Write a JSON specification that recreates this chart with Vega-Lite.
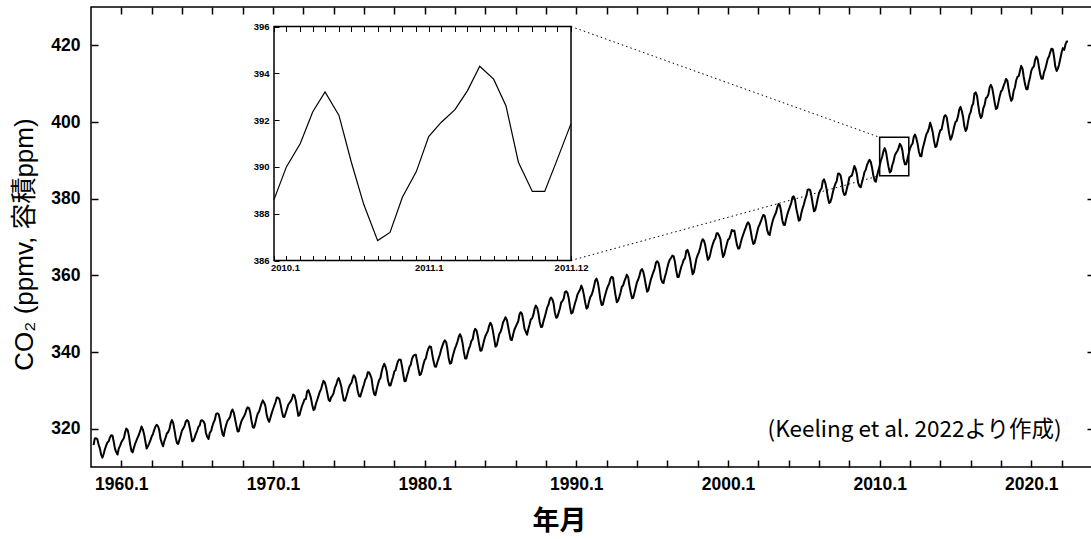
{
"$schema":"https://vega.github.io/schema/vega-lite/v6.json",
"width":1001,"height":460,
"autosize":{"type":"none"},
"padding":{"left":91,"top":7,"right":0,"bottom":72},
"background":"white",
"config":{"view":{"stroke":"black","strokeWidth":1.5},"axis":{"grid":false,"domain":false,"tickColor":"black","labelColor":"black","titleColor":"black","labelOverlap":false,"labelFlush":false}},
"datasets":{"co2":[
{"t":1958.17,"c":315.70},{"t":1958.25,"c":317.45},{"t":1958.33,"c":317.51},{"t":1958.42,"c":317.24},{"t":1958.5,"c":315.86},{"t":1958.58,"c":314.93},{"t":1958.67,"c":313.20},{"t":1958.75,"c":312.43},{"t":1958.83,"c":313.33},{"t":1958.92,"c":314.67},
{"t":1959,"c":315.62},{"t":1959.08,"c":316.38},{"t":1959.17,"c":316.71},{"t":1959.25,"c":317.72},{"t":1959.33,"c":318.29},{"t":1959.42,"c":318.15},{"t":1959.5,"c":316.54},{"t":1959.58,"c":314.80},{"t":1959.67,"c":313.84},{"t":1959.75,"c":313.26},{"t":1959.83,"c":314.80},{"t":1959.92,"c":315.58},
{"t":1960,"c":316.43},{"t":1960.08,"c":316.97},{"t":1960.17,"c":317.58},{"t":1960.25,"c":319.02},{"t":1960.33,"c":320.03},{"t":1960.42,"c":319.59},{"t":1960.5,"c":318.18},{"t":1960.58,"c":315.91},{"t":1960.67,"c":314.16},{"t":1960.75,"c":313.83},{"t":1960.83,"c":315.00},{"t":1960.92,"c":316.19},
{"t":1961,"c":316.93},{"t":1961.08,"c":317.70},{"t":1961.17,"c":318.54},{"t":1961.25,"c":319.48},{"t":1961.33,"c":320.58},{"t":1961.42,"c":319.77},{"t":1961.5,"c":318.57},{"t":1961.58,"c":316.79},{"t":1961.67,"c":314.80},{"t":1961.75,"c":315.38},{"t":1961.83,"c":316.10},{"t":1961.92,"c":317.01},
{"t":1962,"c":317.94},{"t":1962.08,"c":318.55},{"t":1962.17,"c":319.68},{"t":1962.25,"c":320.57},{"t":1962.33,"c":321.02},{"t":1962.42,"c":320.62},{"t":1962.5,"c":319.61},{"t":1962.58,"c":317.40},{"t":1962.67,"c":316.25},{"t":1962.75,"c":315.42},{"t":1962.83,"c":316.69},{"t":1962.92,"c":317.70},
{"t":1963,"c":318.74},{"t":1963.08,"c":319.07},{"t":1963.17,"c":319.86},{"t":1963.25,"c":321.38},{"t":1963.33,"c":322.25},{"t":1963.42,"c":321.48},{"t":1963.5,"c":319.74},{"t":1963.58,"c":317.77},{"t":1963.67,"c":316.21},{"t":1963.75,"c":315.99},{"t":1963.83,"c":317.07},{"t":1963.92,"c":318.35},
{"t":1964,"c":319.57},{"t":1964.08,"c":320.01},{"t":1964.17,"c":320.74},{"t":1964.25,"c":321.84},{"t":1964.33,"c":322.26},{"t":1964.42,"c":321.89},{"t":1964.5,"c":320.44},{"t":1964.58,"c":318.69},{"t":1964.67,"c":316.70},{"t":1964.75,"c":316.87},{"t":1964.83,"c":317.68},{"t":1964.92,"c":318.71},
{"t":1965,"c":319.44},{"t":1965.08,"c":320.44},{"t":1965.17,"c":320.89},{"t":1965.25,"c":322.14},{"t":1965.33,"c":322.17},{"t":1965.42,"c":321.87},{"t":1965.5,"c":321.21},{"t":1965.58,"c":318.87},{"t":1965.67,"c":317.81},{"t":1965.75,"c":317.30},{"t":1965.83,"c":318.87},{"t":1965.92,"c":319.42},
{"t":1966,"c":320.62},{"t":1966.08,"c":321.59},{"t":1966.17,"c":322.39},{"t":1966.25,"c":323.87},{"t":1966.33,"c":324.01},{"t":1966.42,"c":323.75},{"t":1966.5,"c":322.39},{"t":1966.58,"c":320.37},{"t":1966.67,"c":318.64},{"t":1966.75,"c":318.10},{"t":1966.83,"c":319.79},{"t":1966.92,"c":321.08},
{"t":1967,"c":322.07},{"t":1967.08,"c":322.50},{"t":1967.17,"c":323.04},{"t":1967.25,"c":324.42},{"t":1967.33,"c":325.00},{"t":1967.42,"c":324.09},{"t":1967.5,"c":322.54},{"t":1967.58,"c":320.92},{"t":1967.67,"c":319.25},{"t":1967.75,"c":319.39},{"t":1967.83,"c":320.73},{"t":1967.92,"c":321.96},
{"t":1968,"c":322.57},{"t":1968.08,"c":323.15},{"t":1968.17,"c":323.89},{"t":1968.25,"c":325.02},{"t":1968.33,"c":325.57},{"t":1968.42,"c":325.36},{"t":1968.5,"c":324.14},{"t":1968.58,"c":322.11},{"t":1968.67,"c":320.33},{"t":1968.75,"c":320.25},{"t":1968.83,"c":321.32},{"t":1968.92,"c":322.89},
{"t":1969,"c":324.00},{"t":1969.08,"c":324.42},{"t":1969.17,"c":325.63},{"t":1969.25,"c":326.66},{"t":1969.33,"c":327.38},{"t":1969.42,"c":326.71},{"t":1969.5,"c":325.88},{"t":1969.58,"c":323.66},{"t":1969.67,"c":322.38},{"t":1969.75,"c":321.78},{"t":1969.83,"c":322.86},{"t":1969.92,"c":324.12},
{"t":1970,"c":325.06},{"t":1970.08,"c":325.98},{"t":1970.17,"c":326.93},{"t":1970.25,"c":328.13},{"t":1970.33,"c":328.08},{"t":1970.42,"c":327.67},{"t":1970.5,"c":326.34},{"t":1970.58,"c":324.69},{"t":1970.67,"c":323.10},{"t":1970.75,"c":323.06},{"t":1970.83,"c":324.01},{"t":1970.92,"c":325.13},
{"t":1971,"c":326.17},{"t":1971.08,"c":326.68},{"t":1971.17,"c":327.17},{"t":1971.25,"c":327.79},{"t":1971.33,"c":328.93},{"t":1971.42,"c":328.57},{"t":1971.5,"c":327.36},{"t":1971.58,"c":325.43},{"t":1971.67,"c":323.36},{"t":1971.75,"c":323.56},{"t":1971.83,"c":324.80},{"t":1971.92,"c":326.01},
{"t":1972,"c":326.77},{"t":1972.08,"c":327.63},{"t":1972.17,"c":327.75},{"t":1972.25,"c":329.72},{"t":1972.33,"c":330.07},{"t":1972.42,"c":329.09},{"t":1972.5,"c":328.04},{"t":1972.58,"c":326.32},{"t":1972.67,"c":324.84},{"t":1972.75,"c":325.20},{"t":1972.83,"c":326.50},{"t":1972.92,"c":327.55},
{"t":1973,"c":328.55},{"t":1973.08,"c":329.56},{"t":1973.17,"c":330.30},{"t":1973.25,"c":331.50},{"t":1973.33,"c":332.48},{"t":1973.42,"c":332.07},{"t":1973.5,"c":330.87},{"t":1973.58,"c":329.31},{"t":1973.67,"c":327.51},{"t":1973.75,"c":327.18},{"t":1973.83,"c":328.16},{"t":1973.92,"c":328.64},
{"t":1974,"c":329.35},{"t":1974.08,"c":330.71},{"t":1974.17,"c":331.48},{"t":1974.25,"c":332.65},{"t":1974.33,"c":333.19},{"t":1974.42,"c":332.20},{"t":1974.5,"c":331.07},{"t":1974.58,"c":329.15},{"t":1974.67,"c":327.33},{"t":1974.75,"c":327.28},{"t":1974.83,"c":328.31},{"t":1974.92,"c":329.58},
{"t":1975,"c":330.73},{"t":1975.08,"c":331.46},{"t":1975.17,"c":331.94},{"t":1975.25,"c":333.11},{"t":1975.33,"c":333.95},{"t":1975.42,"c":333.42},{"t":1975.5,"c":331.97},{"t":1975.58,"c":329.95},{"t":1975.67,"c":328.50},{"t":1975.75,"c":328.36},{"t":1975.83,"c":329.38},{"t":1975.92,"c":330.62},
{"t":1976,"c":331.56},{"t":1976.08,"c":332.74},{"t":1976.17,"c":333.36},{"t":1976.25,"c":334.74},{"t":1976.33,"c":334.72},{"t":1976.42,"c":333.98},{"t":1976.5,"c":333.08},{"t":1976.58,"c":330.68},{"t":1976.67,"c":328.96},{"t":1976.75,"c":328.72},{"t":1976.83,"c":330.16},{"t":1976.92,"c":331.62},
{"t":1977,"c":332.68},{"t":1977.08,"c":333.17},{"t":1977.17,"c":334.96},{"t":1977.25,"c":336.14},{"t":1977.33,"c":336.93},{"t":1977.42,"c":336.17},{"t":1977.5,"c":334.88},{"t":1977.58,"c":332.56},{"t":1977.67,"c":331.29},{"t":1977.75,"c":331.27},{"t":1977.83,"c":332.41},{"t":1977.92,"c":333.60},
{"t":1978,"c":334.95},{"t":1978.08,"c":335.25},{"t":1978.17,"c":336.66},{"t":1978.25,"c":337.69},{"t":1978.33,"c":338.03},{"t":1978.42,"c":338.01},{"t":1978.5,"c":336.41},{"t":1978.58,"c":334.41},{"t":1978.67,"c":332.37},{"t":1978.75,"c":332.41},{"t":1978.83,"c":333.75},{"t":1978.92,"c":334.90},
{"t":1979,"c":336.14},{"t":1979.08,"c":336.69},{"t":1979.17,"c":338.27},{"t":1979.25,"c":338.96},{"t":1979.33,"c":339.21},{"t":1979.42,"c":339.26},{"t":1979.5,"c":337.54},{"t":1979.58,"c":335.75},{"t":1979.67,"c":333.98},{"t":1979.75,"c":334.19},{"t":1979.83,"c":335.31},{"t":1979.92,"c":336.81},
{"t":1980,"c":337.90},{"t":1980.08,"c":338.34},{"t":1980.17,"c":340.01},{"t":1980.25,"c":340.93},{"t":1980.33,"c":341.48},{"t":1980.42,"c":341.33},{"t":1980.5,"c":339.40},{"t":1980.58,"c":337.70},{"t":1980.67,"c":336.19},{"t":1980.75,"c":336.15},{"t":1980.83,"c":337.27},{"t":1980.92,"c":338.32},
{"t":1981,"c":339.29},{"t":1981.08,"c":340.55},{"t":1981.17,"c":341.61},{"t":1981.25,"c":342.53},{"t":1981.33,"c":343.03},{"t":1981.42,"c":342.54},{"t":1981.5,"c":340.78},{"t":1981.58,"c":338.44},{"t":1981.67,"c":336.95},{"t":1981.75,"c":337.08},{"t":1981.83,"c":338.58},{"t":1981.92,"c":339.88},
{"t":1982,"c":340.96},{"t":1982.08,"c":341.73},{"t":1982.17,"c":342.81},{"t":1982.25,"c":343.97},{"t":1982.33,"c":344.63},{"t":1982.42,"c":343.79},{"t":1982.5,"c":342.32},{"t":1982.58,"c":340.09},{"t":1982.67,"c":338.28},{"t":1982.75,"c":338.29},{"t":1982.83,"c":339.60},{"t":1982.92,"c":340.90},
{"t":1983,"c":341.68},{"t":1983.08,"c":342.90},{"t":1983.17,"c":343.33},{"t":1983.25,"c":345.25},{"t":1983.33,"c":346.03},{"t":1983.42,"c":345.63},{"t":1983.5,"c":344.19},{"t":1983.58,"c":342.27},{"t":1983.67,"c":340.35},{"t":1983.75,"c":340.38},{"t":1983.83,"c":341.59},{"t":1983.92,"c":343.05},
{"t":1984,"c":344.10},{"t":1984.08,"c":344.79},{"t":1984.17,"c":345.52},{"t":1984.25,"c":346.84},{"t":1984.33,"c":347.63},{"t":1984.42,"c":346.97},{"t":1984.5,"c":345.53},{"t":1984.58,"c":343.55},{"t":1984.67,"c":341.40},{"t":1984.75,"c":341.67},{"t":1984.83,"c":343.10},{"t":1984.92,"c":344.70},
{"t":1985,"c":345.21},{"t":1985.08,"c":346.16},{"t":1985.17,"c":347.74},{"t":1985.25,"c":348.34},{"t":1985.33,"c":349.06},{"t":1985.42,"c":348.38},{"t":1985.5,"c":346.72},{"t":1985.58,"c":345.02},{"t":1985.67,"c":343.27},{"t":1985.75,"c":343.13},{"t":1985.83,"c":344.49},{"t":1985.92,"c":345.88},
{"t":1986,"c":346.56},{"t":1986.08,"c":347.28},{"t":1986.17,"c":348.01},{"t":1986.25,"c":349.77},{"t":1986.33,"c":350.38},{"t":1986.42,"c":349.93},{"t":1986.5,"c":348.16},{"t":1986.58,"c":346.08},{"t":1986.67,"c":345.22},{"t":1986.75,"c":344.51},{"t":1986.83,"c":345.93},{"t":1986.92,"c":347.22},
{"t":1987,"c":348.52},{"t":1987.08,"c":348.73},{"t":1987.17,"c":349.73},{"t":1987.25,"c":351.31},{"t":1987.33,"c":352.09},{"t":1987.42,"c":351.53},{"t":1987.5,"c":350.11},{"t":1987.58,"c":347.92},{"t":1987.67,"c":346.52},{"t":1987.75,"c":346.59},{"t":1987.83,"c":347.96},{"t":1987.92,"c":349.16},
{"t":1988,"c":350.39},{"t":1988.08,"c":351.64},{"t":1988.17,"c":352.40},{"t":1988.25,"c":353.69},{"t":1988.33,"c":354.21},{"t":1988.42,"c":353.72},{"t":1988.5,"c":352.69},{"t":1988.58,"c":350.40},{"t":1988.67,"c":348.92},{"t":1988.75,"c":349.13},{"t":1988.83,"c":350.20},{"t":1988.92,"c":351.41},
{"t":1989,"c":352.91},{"t":1989.08,"c":353.27},{"t":1989.17,"c":353.96},{"t":1989.25,"c":355.64},{"t":1989.33,"c":355.86},{"t":1989.42,"c":355.37},{"t":1989.5,"c":353.99},{"t":1989.58,"c":351.81},{"t":1989.67,"c":350.05},{"t":1989.75,"c":350.25},{"t":1989.83,"c":351.49},{"t":1989.92,"c":352.85},
{"t":1990,"c":353.80},{"t":1990.08,"c":355.04},{"t":1990.17,"c":355.73},{"t":1990.25,"c":356.32},{"t":1990.33,"c":357.32},{"t":1990.42,"c":356.34},{"t":1990.5,"c":354.84},{"t":1990.58,"c":353.01},{"t":1990.67,"c":351.31},{"t":1990.75,"c":351.62},{"t":1990.83,"c":353.07},{"t":1990.92,"c":354.33},
{"t":1991,"c":354.84},{"t":1991.08,"c":355.73},{"t":1991.17,"c":357.23},{"t":1991.25,"c":358.66},{"t":1991.33,"c":359.13},{"t":1991.42,"c":358.13},{"t":1991.5,"c":356.19},{"t":1991.58,"c":353.85},{"t":1991.67,"c":352.25},{"t":1991.75,"c":352.35},{"t":1991.83,"c":353.81},{"t":1991.92,"c":355.12},
{"t":1992,"c":356.25},{"t":1992.08,"c":357.11},{"t":1992.17,"c":357.86},{"t":1992.25,"c":359.09},{"t":1992.33,"c":359.59},{"t":1992.42,"c":359.33},{"t":1992.5,"c":357.01},{"t":1992.58,"c":354.94},{"t":1992.67,"c":352.96},{"t":1992.75,"c":353.32},{"t":1992.83,"c":354.32},{"t":1992.92,"c":355.57},
{"t":1993,"c":357.00},{"t":1993.08,"c":357.31},{"t":1993.17,"c":358.47},{"t":1993.25,"c":359.27},{"t":1993.33,"c":360.19},{"t":1993.42,"c":359.52},{"t":1993.5,"c":357.33},{"t":1993.58,"c":355.64},{"t":1993.67,"c":354.03},{"t":1993.75,"c":354.12},{"t":1993.83,"c":355.41},{"t":1993.92,"c":356.91},
{"t":1994,"c":358.24},{"t":1994.08,"c":358.92},{"t":1994.17,"c":359.99},{"t":1994.25,"c":361.23},{"t":1994.33,"c":361.65},{"t":1994.42,"c":360.81},{"t":1994.5,"c":359.38},{"t":1994.58,"c":357.46},{"t":1994.67,"c":355.73},{"t":1994.75,"c":356.08},{"t":1994.83,"c":357.53},{"t":1994.92,"c":358.98},
{"t":1995,"c":359.92},{"t":1995.08,"c":360.86},{"t":1995.17,"c":361.83},{"t":1995.25,"c":363.30},{"t":1995.33,"c":363.69},{"t":1995.42,"c":363.19},{"t":1995.5,"c":361.64},{"t":1995.58,"c":359.12},{"t":1995.67,"c":358.17},{"t":1995.75,"c":357.99},{"t":1995.83,"c":359.45},{"t":1995.92,"c":360.68},
{"t":1996,"c":362.07},{"t":1996.08,"c":363.24},{"t":1996.17,"c":364.17},{"t":1996.25,"c":364.57},{"t":1996.33,"c":365.13},{"t":1996.42,"c":364.92},{"t":1996.5,"c":363.55},{"t":1996.58,"c":361.38},{"t":1996.67,"c":359.54},{"t":1996.75,"c":359.58},{"t":1996.83,"c":360.89},{"t":1996.92,"c":362.24},
{"t":1997,"c":363.09},{"t":1997.08,"c":364.03},{"t":1997.17,"c":364.51},{"t":1997.25,"c":366.35},{"t":1997.33,"c":366.64},{"t":1997.42,"c":365.59},{"t":1997.5,"c":364.31},{"t":1997.58,"c":362.25},{"t":1997.67,"c":360.29},{"t":1997.75,"c":360.82},{"t":1997.83,"c":362.49},{"t":1997.92,"c":364.38},
{"t":1998,"c":365.26},{"t":1998.08,"c":365.98},{"t":1998.17,"c":367.24},{"t":1998.25,"c":368.66},{"t":1998.33,"c":369.42},{"t":1998.42,"c":368.99},{"t":1998.5,"c":367.82},{"t":1998.58,"c":365.95},{"t":1998.67,"c":364.02},{"t":1998.75,"c":364.40},{"t":1998.83,"c":365.52},{"t":1998.92,"c":367.13},
{"t":1999,"c":368.18},{"t":1999.08,"c":369.07},{"t":1999.17,"c":369.68},{"t":1999.25,"c":370.99},{"t":1999.33,"c":370.96},{"t":1999.42,"c":370.30},{"t":1999.5,"c":369.45},{"t":1999.58,"c":366.90},{"t":1999.67,"c":364.81},{"t":1999.75,"c":365.37},{"t":1999.83,"c":366.72},{"t":1999.92,"c":368.10},
{"t":2000,"c":369.29},{"t":2000.08,"c":369.54},{"t":2000.17,"c":370.60},{"t":2000.25,"c":371.82},{"t":2000.33,"c":371.58},{"t":2000.42,"c":371.70},{"t":2000.5,"c":369.86},{"t":2000.58,"c":368.13},{"t":2000.67,"c":367.00},{"t":2000.75,"c":367.03},{"t":2000.83,"c":368.37},{"t":2000.92,"c":369.67},
{"t":2001,"c":370.59},{"t":2001.08,"c":371.51},{"t":2001.17,"c":372.43},{"t":2001.25,"c":373.37},{"t":2001.33,"c":373.85},{"t":2001.42,"c":373.21},{"t":2001.5,"c":371.51},{"t":2001.58,"c":369.61},{"t":2001.67,"c":368.18},{"t":2001.75,"c":368.45},{"t":2001.83,"c":369.76},{"t":2001.92,"c":371.24},
{"t":2002,"c":372.53},{"t":2002.08,"c":373.20},{"t":2002.17,"c":374.12},{"t":2002.25,"c":375.02},{"t":2002.33,"c":375.76},{"t":2002.42,"c":375.52},{"t":2002.5,"c":374.01},{"t":2002.58,"c":371.85},{"t":2002.67,"c":370.75},{"t":2002.75,"c":370.55},{"t":2002.83,"c":372.25},{"t":2002.92,"c":373.79},
{"t":2003,"c":374.88},{"t":2003.08,"c":375.64},{"t":2003.17,"c":376.45},{"t":2003.25,"c":377.73},{"t":2003.33,"c":378.60},{"t":2003.42,"c":378.28},{"t":2003.5,"c":376.70},{"t":2003.58,"c":374.38},{"t":2003.67,"c":373.17},{"t":2003.75,"c":373.14},{"t":2003.83,"c":374.66},{"t":2003.92,"c":375.99},
{"t":2004,"c":377.00},{"t":2004.08,"c":377.87},{"t":2004.17,"c":378.88},{"t":2004.25,"c":380.35},{"t":2004.33,"c":380.62},{"t":2004.42,"c":379.69},{"t":2004.5,"c":377.47},{"t":2004.58,"c":376.01},{"t":2004.67,"c":374.25},{"t":2004.75,"c":374.46},{"t":2004.83,"c":376.16},{"t":2004.92,"c":377.51},
{"t":2005,"c":378.46},{"t":2005.08,"c":379.73},{"t":2005.17,"c":380.77},{"t":2005.25,"c":382.29},{"t":2005.33,"c":382.45},{"t":2005.42,"c":382.21},{"t":2005.5,"c":380.74},{"t":2005.58,"c":378.74},{"t":2005.67,"c":376.70},{"t":2005.75,"c":377.00},{"t":2005.83,"c":378.35},{"t":2005.92,"c":380.11},
{"t":2006,"c":381.38},{"t":2006.08,"c":382.19},{"t":2006.17,"c":382.67},{"t":2006.25,"c":384.61},{"t":2006.33,"c":385.03},{"t":2006.42,"c":384.05},{"t":2006.5,"c":382.46},{"t":2006.58,"c":380.41},{"t":2006.67,"c":378.85},{"t":2006.75,"c":379.13},{"t":2006.83,"c":380.15},{"t":2006.92,"c":381.82},
{"t":2007,"c":382.89},{"t":2007.08,"c":383.90},{"t":2007.17,"c":384.58},{"t":2007.25,"c":386.50},{"t":2007.33,"c":386.56},{"t":2007.42,"c":386.10},{"t":2007.5,"c":384.50},{"t":2007.58,"c":381.99},{"t":2007.67,"c":380.96},{"t":2007.75,"c":381.12},{"t":2007.83,"c":382.45},{"t":2007.92,"c":383.95},
{"t":2008,"c":385.52},{"t":2008.08,"c":385.82},{"t":2008.17,"c":386.03},{"t":2008.25,"c":387.21},{"t":2008.33,"c":388.54},{"t":2008.42,"c":387.76},{"t":2008.5,"c":386.36},{"t":2008.58,"c":384.09},{"t":2008.67,"c":383.18},{"t":2008.75,"c":382.99},{"t":2008.83,"c":384.19},{"t":2008.92,"c":385.56},
{"t":2009,"c":386.94},{"t":2009.08,"c":387.48},{"t":2009.17,"c":388.82},{"t":2009.25,"c":389.55},{"t":2009.33,"c":390.14},{"t":2009.42,"c":389.48},{"t":2009.5,"c":388.03},{"t":2009.58,"c":386.11},{"t":2009.67,"c":384.74},{"t":2009.75,"c":384.43},{"t":2009.83,"c":386.02},{"t":2009.92,"c":387.42},
{"t":2010,"c":388.6},{"t":2010.08,"c":390.0},{"t":2010.17,"c":391.0},{"t":2010.25,"c":392.35},{"t":2010.33,"c":393.2},{"t":2010.42,"c":392.2},{"t":2010.5,"c":390.2},{"t":2010.58,"c":388.4},{"t":2010.67,"c":386.85},{"t":2010.75,"c":387.2},{"t":2010.83,"c":388.7},{"t":2010.92,"c":389.8},
{"t":2011,"c":391.3},{"t":2011.08,"c":391.9},{"t":2011.17,"c":392.45},{"t":2011.25,"c":393.25},{"t":2011.33,"c":394.3},{"t":2011.42,"c":393.75},{"t":2011.5,"c":392.6},{"t":2011.58,"c":390.2},{"t":2011.67,"c":388.95},{"t":2011.75,"c":388.95},{"t":2011.83,"c":390.3},{"t":2011.92,"c":391.85},
{"t":2012,"c":393.12},{"t":2012.08,"c":393.86},{"t":2012.17,"c":394.40},{"t":2012.25,"c":396.18},{"t":2012.33,"c":396.74},{"t":2012.42,"c":395.71},{"t":2012.5,"c":394.36},{"t":2012.58,"c":392.39},{"t":2012.67,"c":391.11},{"t":2012.75,"c":391.05},{"t":2012.83,"c":392.98},{"t":2012.92,"c":394.34},
{"t":2013,"c":395.55},{"t":2013.08,"c":396.80},{"t":2013.17,"c":397.43},{"t":2013.25,"c":398.41},{"t":2013.33,"c":399.78},{"t":2013.42,"c":398.61},{"t":2013.5,"c":397.32},{"t":2013.58,"c":395.20},{"t":2013.67,"c":393.45},{"t":2013.75,"c":393.70},{"t":2013.83,"c":395.16},{"t":2013.92,"c":396.84},
{"t":2014,"c":397.85},{"t":2014.08,"c":398.01},{"t":2014.17,"c":399.77},{"t":2014.25,"c":401.38},{"t":2014.33,"c":401.78},{"t":2014.42,"c":401.25},{"t":2014.5,"c":399.10},{"t":2014.58,"c":397.03},{"t":2014.67,"c":395.38},{"t":2014.75,"c":396.03},{"t":2014.83,"c":397.28},{"t":2014.92,"c":398.91},
{"t":2015,"c":399.98},{"t":2015.08,"c":400.28},{"t":2015.17,"c":401.54},{"t":2015.25,"c":403.28},{"t":2015.33,"c":403.96},{"t":2015.42,"c":402.80},{"t":2015.5,"c":401.31},{"t":2015.58,"c":398.93},{"t":2015.67,"c":397.63},{"t":2015.75,"c":398.29},{"t":2015.83,"c":400.16},{"t":2015.92,"c":401.85},
{"t":2016,"c":402.56},{"t":2016.08,"c":404.12},{"t":2016.17,"c":404.87},{"t":2016.25,"c":407.45},{"t":2016.33,"c":407.72},{"t":2016.42,"c":406.83},{"t":2016.5,"c":404.41},{"t":2016.58,"c":402.27},{"t":2016.67,"c":401.05},{"t":2016.75,"c":401.59},{"t":2016.83,"c":403.55},{"t":2016.92,"c":404.45},
{"t":2017,"c":406.17},{"t":2017.08,"c":406.46},{"t":2017.17,"c":407.22},{"t":2017.25,"c":409.04},{"t":2017.33,"c":409.69},{"t":2017.42,"c":408.88},{"t":2017.5,"c":407.12},{"t":2017.58,"c":405.13},{"t":2017.67,"c":403.37},{"t":2017.75,"c":403.63},{"t":2017.83,"c":405.12},{"t":2017.92,"c":406.81},
{"t":2018,"c":407.96},{"t":2018.08,"c":408.32},{"t":2018.17,"c":409.41},{"t":2018.25,"c":410.24},{"t":2018.33,"c":411.24},{"t":2018.42,"c":410.79},{"t":2018.5,"c":408.71},{"t":2018.58,"c":406.99},{"t":2018.67,"c":405.51},{"t":2018.75,"c":406.00},{"t":2018.83,"c":408.02},{"t":2018.92,"c":409.07},
{"t":2019,"c":410.83},{"t":2019.08,"c":411.75},{"t":2019.17,"c":411.97},{"t":2019.25,"c":413.33},{"t":2019.33,"c":414.64},{"t":2019.42,"c":413.93},{"t":2019.5,"c":411.74},{"t":2019.58,"c":409.95},{"t":2019.67,"c":408.54},{"t":2019.75,"c":408.53},{"t":2019.83,"c":410.27},{"t":2019.92,"c":411.76},
{"t":2020,"c":413.40},{"t":2020.08,"c":414.11},{"t":2020.17,"c":414.51},{"t":2020.25,"c":416.21},{"t":2020.33,"c":417.07},{"t":2020.42,"c":416.38},{"t":2020.5,"c":414.38},{"t":2020.58,"c":412.55},{"t":2020.67,"c":411.29},{"t":2020.75,"c":411.28},{"t":2020.83,"c":412.89},{"t":2020.92,"c":413.89},
{"t":2021,"c":415.15},{"t":2021.08,"c":416.47},{"t":2021.17,"c":417.16},{"t":2021.25,"c":418.24},{"t":2021.33,"c":419.13},{"t":2021.42,"c":418.94},{"t":2021.5,"c":416.96},{"t":2021.58,"c":414.47},{"t":2021.67,"c":413.30},{"t":2021.75,"c":413.93},{"t":2021.83,"c":415.01},{"t":2021.92,"c":416.71},
{"t":2022,"c":418.19},{"t":2022.08,"c":419.28},{"t":2022.17,"c":418.81},{"t":2022.25,"c":420.23},{"t":2022.33,"c":420.99},{"t":2022.42,"c":420.99}
]},
"layer":[
{"data":{"name":"co2"},
 "mark":{"type":"line","color":"black","strokeWidth":2,"strokeJoin":"round"},
 "encoding":{
  "x":{"field":"t","type":"quantitative","scale":{"domain":[1958,2024],"nice":false,"zero":false},
   "axis":{"orient":"bottom","values":[1960,1962,1964,1966,1968,1970,1972,1974,1976,1978,1980,1982,1984,1986,1988,1990,1992,1994,1996,1998,2000,2002,2004,2006,2008,2010,2012,2014,2016,2018,2020,2022],
    "labelExpr":"datum.value % 10 == 0 ? datum.value + '.1' : ''","tickSize":-7,"tickWidth":1.5,"labelPadding":15,
    "labelFont":"Liberation Sans","labelFontWeight":"bold","labelFontSize":17.5,
    "title":"年月","titleFont":"Noto Sans CJK JP","titleFontWeight":"bold","titleFontSize":27,"titleX":468,"titleY":62,"titleAlign":"center","titleBaseline":"alphabetic"}},
  "y":{"field":"c","type":"quantitative","scale":{"domain":[310,430],"nice":false,"zero":false},
   "axis":{"orient":"left","values":[320,340,360,380,400,420],"tickSize":-7,"tickWidth":1.5,"labelPadding":18,
    "labelFont":"Liberation Sans","labelFontWeight":"bold","labelFontSize":17.5,
    "title":"CO₂ (ppmv, 容積ppm)","titleFont":"Liberation Sans, Noto Sans CJK JP","titleFontWeight":"normal","titleFontSize":26,"titleAngle":270,"titleX":-59,"titleY":237,"titleAlign":"center","titleBaseline":"alphabetic"}}
 }},
{"data":{"values":[{"label":"(Keeling et al. 2022より作成)"}]},
 "mark":{"type":"text","align":"right","baseline":"alphabetic","font":"Noto Sans CJK JP","fontSize":22.5,"color":"black"},
 "encoding":{
  "text":{"field":"label"},
  "x":{"datum":2022,"type":"quantitative","scale":{"domain":[1958,2024],"nice":false,"zero":false},
   "axis":{"orient":"top","values":[1960,1962,1964,1966,1968,1970,1972,1974,1976,1978,1980,1982,1984,1986,1988,1990,1992,1994,1996,1998,2000,2002,2004,2006,2008,2010,2012,2014,2016,2018,2020,2022],"labels":false,"tickSize":-7,"tickWidth":1.5,"title":null}},
  "y":{"datum":317.8,"type":"quantitative","scale":{"domain":[310,430],"nice":false,"zero":false},
   "axis":{"orient":"right","values":[320,340,360,380,400,420],"labels":false,"tickSize":-5,"tickWidth":1.5,"title":null}}
 }},
{"data":{"values":[{}]},
 "mark":{"type":"rect","fill":"white","fillOpacity":0,"stroke":"black","strokeWidth":1.5},
 "encoding":{
  "x":{"datum":2010,"type":"quantitative","scale":{"domain":[1958,2024],"nice":false,"zero":false},"axis":null},
  "x2":{"datum":2011.92},
  "y":{"datum":386,"type":"quantitative","scale":{"domain":[310,430],"nice":false,"zero":false},"axis":null},
  "y2":{"datum":396}
 }},
{"data":{"values":[{}]},
 "mark":{"type":"rule","color":"black","strokeWidth":1,"strokeDash":[1.5,3]},
 "encoding":{
  "x":{"datum":1989.65,"type":"quantitative","scale":{"domain":[1958,2024],"nice":false,"zero":false},"axis":null},
  "x2":{"datum":2010},
  "y":{"datum":424.91,"type":"quantitative","scale":{"domain":[310,430],"nice":false,"zero":false},"axis":null},
  "y2":{"datum":396}
 }},
{"data":{"values":[{}]},
 "mark":{"type":"rule","color":"black","strokeWidth":1,"strokeDash":[1.5,3]},
 "encoding":{
  "x":{"datum":1989.65,"type":"quantitative","scale":{"domain":[1958,2024],"nice":false,"zero":false},"axis":null},
  "x2":{"datum":2010},
  "y":{"datum":363.87,"type":"quantitative","scale":{"domain":[310,430],"nice":false,"zero":false},"axis":null},
  "y2":{"datum":386}
 }},
{"data":{"values":[{}]},
 "mark":{"type":"rect","fill":"white","fillOpacity":0,"stroke":"black","strokeWidth":1.5},
 "encoding":{
  "x":{"datum":2010,"type":"quantitative","scale":{"domain":[2010,2011.92],"range":[183,480],"nice":false,"zero":false},
   "axis":{"orient":"bottom","offset":-206.5,"values":[2010,2010.08,2010.17,2010.25,2010.33,2010.42,2010.5,2010.58,2010.67,2010.75,2010.83,2010.92,2011,2011.08,2011.17,2011.25,2011.33,2011.42,2011.5,2011.58,2011.67,2011.75,2011.83,2011.92],
    "labelExpr":"datum.value == 2010 ? '2010.1' : (datum.value == 2011 ? '2011.1' : (datum.value == 2011.92 ? '2011.12' : ''))",
    "labelOffset":{"condition":{"test":"datum.value == 2010","value":11},"value":0},
    "tickSize":-5,"tickWidth":1,"labelPadding":7,"labelFont":"Liberation Sans","labelFontWeight":"bold","labelFontSize":9.5,"title":null}},
  "x2":{"datum":2011.92},
  "y":{"datum":386,"type":"quantitative","scale":{"domain":[386,396],"range":[253.5,19.5],"nice":false,"zero":false},
   "axis":{"orient":"left","offset":-183,"values":[386,388,390,392,394,396],"tickSize":-5,"tickWidth":1,"labelPadding":10,"labelFont":"Liberation Sans","labelFontWeight":"bold","labelFontSize":9.5,"title":null}},
  "y2":{"datum":396}
 }},
{"data":{"name":"co2"},
 "transform":[{"filter":"datum.t >= 2009.99 && datum.t <= 2011.93"}],
 "mark":{"type":"line","color":"black","strokeWidth":1.2},
 "encoding":{
  "x":{"field":"t","type":"quantitative","scale":{"domain":[2010,2011.92],"range":[183,480],"nice":false,"zero":false},
   "axis":{"orient":"top","offset":-19.5,"values":[2010,2010.08,2010.17,2010.25,2010.33,2010.42,2010.5,2010.58,2010.67,2010.75,2010.83,2010.92,2011,2011.08,2011.17,2011.25,2011.33,2011.42,2011.5,2011.58,2011.67,2011.75,2011.83,2011.92],"labels":false,"tickSize":-5,"tickWidth":1,"title":null}},
  "y":{"field":"c","type":"quantitative","scale":{"domain":[386,396],"range":[253.5,19.5],"nice":false,"zero":false},"axis":null}
 }}
],
"resolve":{"scale":{"x":"independent","y":"independent"}}
}
